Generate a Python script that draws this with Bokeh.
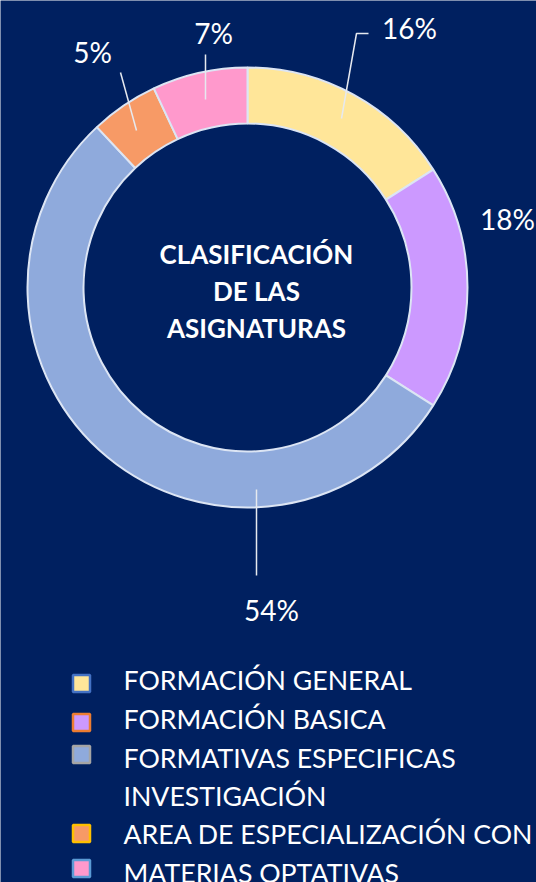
import numpy as np
from bokeh.plotting import figure
from bokeh.models import Range1d
from bokeh.core.properties import value
from bokeh.embed import file_html
from bokeh.resources import INLINE

# ---- data ----
categories = ["FORMACIÓN GENERAL", "FORMACIÓN BASICA",
              "FORMATIVAS ESPECIFICAS\nINVESTIGACIÓN",
              "AREA DE ESPECIALIZACIÓN CON", "MATERIAS OPTATIVAS"]
values = [16, 18, 54, 5, 7]
colors = ["#FFE699", "#CC99FF", "#8FAADC", "#F79A66", "#FF99CC"]
marker_borders = ["#4472C4", "#ED7D31", "#A5A5A5", "#FFC000", "#5B9BD5"]
title_lines = ["CLASIFICACIÓN", "DE LAS", "ASIGNATURAS"]

# ---- layout (screen px, y downward) ----
W, H = 536, 882
BG = "#002060"
FONT = "Lato"
TXT_DY = -10  # renderer baseline correction
cx, cy = 247, 287
r_in, r_out = 164, 220
label_pos = [(409, 37), (507, 228), (271, 619), (92, 61), (213, 42)]
leaders = [
    [(341, 118), (356, 33), (368, 33)],
    None,
    [(256, 489), (256, 575)],
    [(136, 130), (120, 72)],
    [(205, 99), (205, 54)],
]
legend_text_x = 123
legend_baselines = [689, 728, 767, 843, 882]
legend_marker_y = [683, 722, 754, 833, 868]

def sy(y):
    return H - y

def ty(y):
    return H - (y + TXT_DY)

p = figure(width=W, height=H, x_range=Range1d(0, W), y_range=Range1d(0, H),
           output_backend="svg", toolbar_location=None,
           x_axis_location=None, y_axis_location=None, min_border=0)
p.background_fill_color = BG
p.border_fill_color = BG
p.outline_line_color = None
p.grid.visible = False

vals = np.array(values, dtype=float)
frac = vals / vals.sum()
cum = np.concatenate([[0], np.cumsum(frac)])
starts = np.pi / 2 - 2 * np.pi * cum[:-1]
ends = np.pi / 2 - 2 * np.pi * cum[1:]

p.annular_wedge(x=cx, y=sy(cy), inner_radius=r_in, outer_radius=r_out,
                start_angle=starts, end_angle=ends, direction="clock",
                fill_color=colors, line_color="#DCE5F4", line_width=2)

# percentage labels
for v, (lx, ly) in zip(values, label_pos):
    p.text(x=[lx], y=[ty(ly)], text=[f"{v}%"], text_color="white",
           text_font=value(FONT), text_font_size="28px",
           text_align="center", text_baseline="alphabetic")

for ld in leaders:
    if ld is None:
        continue
    xs = [pt[0] for pt in ld]
    ys = [sy(pt[1]) for pt in ld]
    p.line(xs, ys, line_color="#E6E9EF", line_width=1.5)

# centre title
for i, t in enumerate(title_lines):
    p.text(x=[256], y=[ty(263 + 37 * i)], text=[t], text_color="white",
           text_font=value(FONT), text_font_style="bold", text_font_size="26px",
           text_align="center", text_baseline="alphabetic")

# legend
for cat, c, bc, bl, my in zip(categories, colors, marker_borders,
                              legend_baselines, legend_marker_y):
    p.rect(x=[81], y=[sy(my)], width=17, height=17, fill_color=c,
           line_color=bc, line_width=2.5)
    lines = cat.split("\n")
    for j, ln in enumerate(lines):
        p.text(x=[legend_text_x], y=[ty(bl + 38 * j)], text=[ln],
               text_color="white", text_font=value(FONT), text_font_size="26.7px",
               text_align="left", text_baseline="alphabetic")

open("out.html", "w").write(file_html(p, INLINE))
